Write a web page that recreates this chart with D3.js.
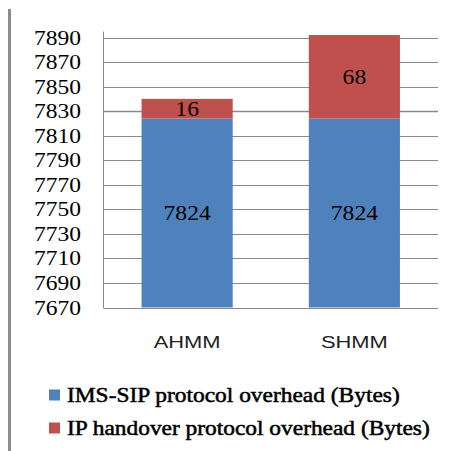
<!DOCTYPE html>
<html>
<head>
<meta charset="utf-8">
<script src="https://cdn.jsdelivr.net/npm/d3@7"></script>
<style>
  html, body { margin: 0; padding: 0; background: #fff; }
  svg { display: block; }
</style>
</head>
<body>
<svg id="chart" width="458" height="451"></svg>
<script>
// Chart data
const categories = ["AHMM", "SHMM"];
const sipOverhead = [7824, 7824];
const handoverOverhead = [16, 68];
const seriesNames = ["IMS-SIP protocol overhead (Bytes)", "IP handover protocol overhead (Bytes)"];
const seriesColors = ["#4F81BD", "#C0504D"];
const yTicks = [7670, 7690, 7710, 7730, 7750, 7770, 7790, 7810, 7830, 7850, 7870, 7890];

const SERIF = "Liberation Serif";
const SANS = "Liberation Sans";

const svg = d3.select("#chart");
const plot = { left: 103.5, right: 438, top: 37.5, bottom: 307.5 };

const x = d3.scaleBand().domain(categories).range([plot.left, plot.right]).paddingInner(0.455).paddingOuter(0.2275);
const y = d3.scaleLinear().domain([7670, 7890]).range([plot.bottom, plot.top]);

// Helper: text anchored at (px, py), stretched horizontally to a given width
function label(sel, px, py, anchor, family, size, str, width) {
  const t = sel.append("text")
    .attr("dy", "0.35em")
    .attr("text-anchor", anchor)
    .style("font-family", family)
    .attr("font-size", size)
    .attr("fill", "#000")
    .text(str);
  const natural = t.node().getComputedTextLength() || width;
  t.attr("transform", `translate(${px},${py}) scale(${width / natural},1)`);
  return t;
}

// Frame line on the left edge
svg.append("rect").attr("x", 8).attr("y", 9).attr("width", 3).attr("height", 442).attr("fill", "#8c8c8c");

// Gridlines
svg.append("g").selectAll("line").data(yTicks).join("line")
  .attr("x1", plot.left).attr("x2", plot.right)
  .attr("y1", d => Math.round(y(d)) + 0.5).attr("y2", d => Math.round(y(d)) + 0.5)
  .attr("stroke", "#8a8a8a").attr("stroke-width", d => d === 7830 ? 1.6 : 1);

// Left axis line
svg.append("line").attr("x1", plot.left).attr("x2", plot.left)
  .attr("y1", plot.top - 6).attr("y2", plot.bottom + 0.5)
  .attr("stroke", "#8a8a8a");

// Y tick labels
const yLab = svg.append("g");
yTicks.forEach(t => label(yLab, 81, y(t), "end", SERIF, 20, t, 47));

// Stacked bars
const stackData = categories.map((c, i) => ({ cat: c, sip: sipOverhead[i], ho: handoverOverhead[i] }));
const stacked = d3.stack().keys(["sip", "ho"])(stackData);

const layers = svg.append("g").selectAll("g").data(stacked).join("g")
  .attr("fill", (d, i) => seriesColors[i]);

layers.selectAll("rect").data(d => d).join("rect")
  .attr("x", d => x(d.data.cat))
  .attr("width", x.bandwidth())
  .attr("y", d => y(d[1]))
  .attr("height", d => y(Math.max(d[0], 7670)) - y(d[1]));

// Value labels, centred in each segment
const valLab = svg.append("g");
stacked.forEach(layer => layer.forEach(d => {
  const v = d[1] - d[0];
  const cx = x(d.data.cat) + x.bandwidth() / 2;
  const cy = (y(Math.max(d[0], 7670)) + y(d[1])) / 2;
  label(valLab, cx, cy, "middle", SERIF, 20, v, String(v).length * 11.8);
}));

// Category labels
const catLab = svg.append("g");
categories.forEach(c => label(catLab, x(c) + x.bandwidth() / 2, 342, "middle", SANS, 17, c, 67)
  .attr("fill", "#222"));

// Legend
const legend = svg.append("g");
const legendWidths = [333, 363];
seriesNames.forEach((name, i) => {
  const ly = 395 + i * 33;
  legend.append("rect").attr("x", 49).attr("y", ly - 5.5).attr("width", 11).attr("height", 11)
    .attr("fill", seriesColors[i]);
  label(legend, 67, ly, "start", SERIF, 20, name, legendWidths[i])
    .attr("stroke", "#000").attr("stroke-width", 0.5);
});
</script>
</body>
</html>
